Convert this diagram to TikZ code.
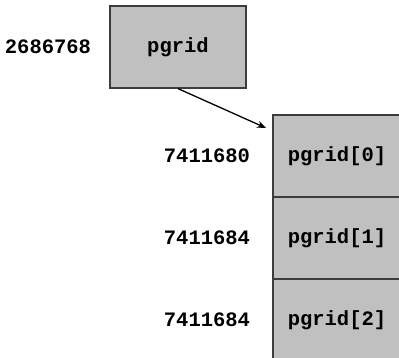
\documentclass[tikz,border=0pt]{standalone}
\usepackage{fontspec}
\setmonofont{Liberation Mono}
\definecolor{relleno}{RGB}{192,192,192}
\definecolor{borde}{RGB}{60,60,60}
\usetikzlibrary{arrows.meta}

\tikzset{
    celda/.style={draw=borde, line width=1.2pt, fill=relleno, inner sep=0pt,
        font=\fontsize{20.5}{24}\selectfont\ttfamily\bfseries},
    direccion/.style={inner sep=0pt, font=\fontsize{20.5}{24}\selectfont\ttfamily\bfseries}
}

\begin{document}
\begin{tikzpicture}[x=1pt, y=-1pt]
        % Marco del dibujo
        \useasboundingbox (0,0) rectangle (399,358);

        % Variable puntero y su direccion
        \node[celda, minimum width=136pt, minimum height=82pt] (pgrid) at (178,47) {pgrid};
        \node[direccion] (dirpgrid) at (48,47) {2686768};

        % Bloque de memoria al que apunta (tres celdas seguidas)
        \node[celda, minimum width=128pt, minimum height=82pt] (celda0) at (337,156) {pgrid[0]};
        \node[celda, minimum width=128pt, minimum height=82pt] (celda1) at (337,238) {pgrid[1]};
        \node[celda, minimum width=128pt, minimum height=82pt] (celda2) at (337,320) {pgrid[2]};

        % Direcciones de cada celda
        \node[direccion] (dir0) at (207,156) {7411680};
        \node[direccion] (dir1) at (207,238) {7411684};
        \node[direccion] (dir2) at (207,320) {7411684};

        % Flecha del puntero al primer elemento
        \coordinate (punta) at (266,128);
        \draw[line width=1.3pt, -{Stealth[length=9pt, width=7pt]}] (pgrid.south) -- (punta);

    \end{tikzpicture}
\end{document}
